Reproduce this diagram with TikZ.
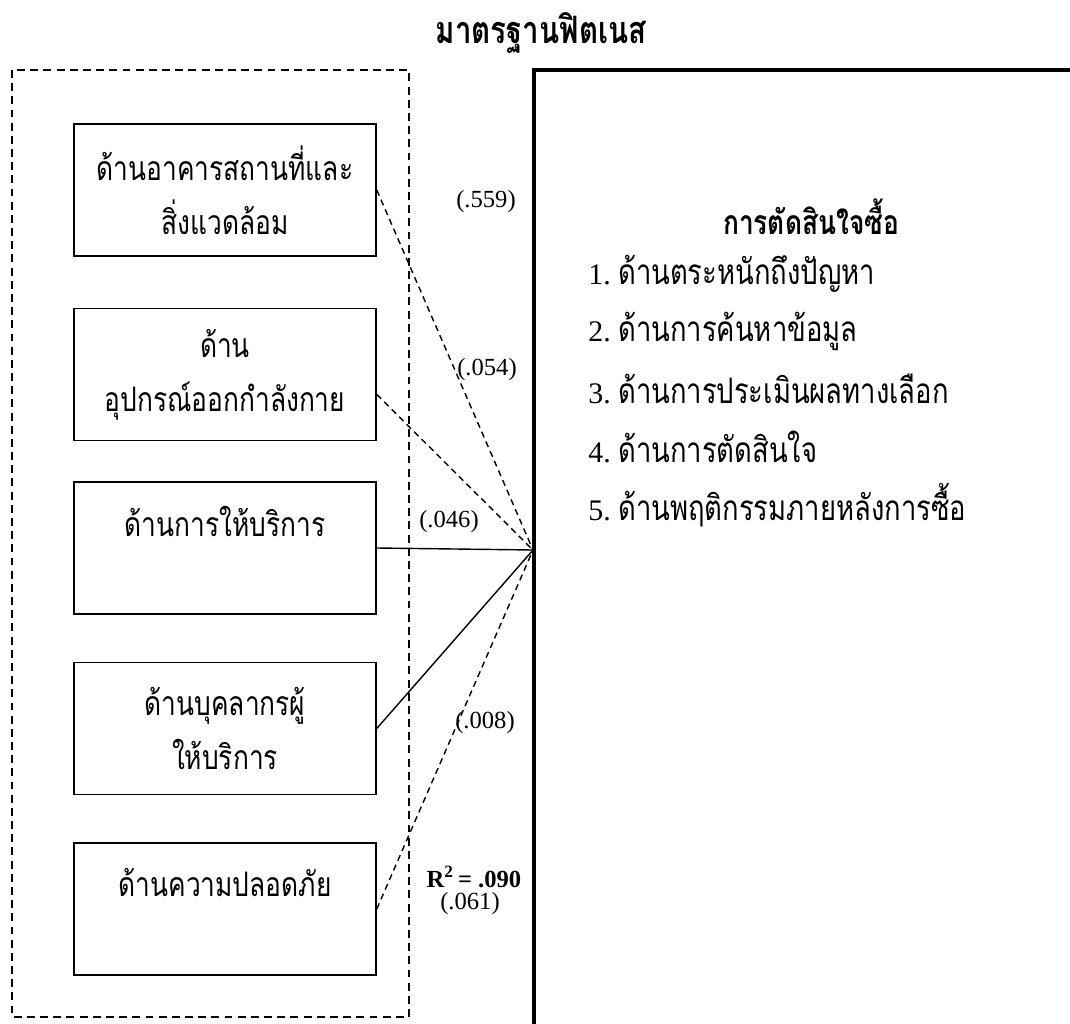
\documentclass[tikz,border=0pt]{standalone}
\usepackage{fontspec}
\setmainfont{Liberation Serif}
\newfontfamily\thai[Script=Thai, FakeStretch=0.78]{Loma}
\tikzset{
  factor/.style = {draw, line width = 0.9pt, minimum width = 6.04cm, minimum height = 2.64cm,
                   inner sep = 0pt, align = center, font = \thai\fontsize{19.2}{30.6}\selectfont},
  coef/.style = {font = \fontsize{14}{16}\selectfont},
  item/.style = {anchor = west, inner sep = 0pt, font = \fontsize{17}{20}\selectfont}
}
\begin{document}
\begin{tikzpicture}[x = 0.02cm, y = -0.02cm]
            \useasboundingbox (0,0) rectangle (1070,1023);
            \node[font = \thai\bfseries\fontsize{21.5}{24}\selectfont] (title) at (541,33) {มาตรฐานฟิตเนส};
            \draw[line width = 0.8pt, dash pattern = on 4.5pt off 3pt] (12,70) rectangle (409,1017);
            \draw[line width = 2.3pt] (1080,70) -- (534,70) -- (534,1035);
            \coordinate (hub) at (533,550);
            \node[factor] (f1) at (225,190) {ด้านอาคารสถานที่และ\\สิ่งแวดล้อม};
            \node[factor] (f2) at (225,374.5) {ด้าน\\อุปกรณ์ออกกำลังกาย};
            \node[factor] (f3) at (225,548) {ด้านการให้บริการ\\~};
            \node[factor] (f4) at (225,728.5) {ด้านบุคลากรผู้\\ให้บริการ};
            \node[factor] (f5) at (225,909) {ด้านความปลอดภัย\\~};
            \begin{scope}[line width = 0.8pt]
                \draw (f3.east) -- (hub);
                \draw (f4.east) -- (hub);
            \end{scope}
            \begin{scope}[line width = 0.8pt, dash pattern = on 3.5pt off 2.5pt]
                \draw (f1.east) -- (hub);
                \draw ([yshift = -0.4cm]f2.east) -- (hub);
                \draw (f5.east) -- (hub);
            \end{scope}
            \begin{scope}[every node/.append style = {coef}]
                \node (c1) at (486,202) {(.559)};
                \node (c2) at (487,370) {(.054)};
                \node (c3) at (449,522) {(.046)};
                \node (c4) at (485,723) {(.008)};
                \node (rsq) at (474,877) {\textbf{R\textsuperscript{2}\,= .090}};
                \node (c5) at (470,904) {(.061)};
            \end{scope}
            \node[font = \thai\bfseries\fontsize{19.2}{22}\selectfont] (dv) at (811,217) {การตัดสินใจซื้อ};
            \begin{scope}[every node/.append style = {item}]
                \node (d1) at (588,274) {1.\ {\thai\fontsize{20}{22}\selectfont ด้านตระหนักถึงปัญหา}};
                \node (d2) at (588,331) {2.\ {\thai\fontsize{20}{22}\selectfont ด้านการค้นหาข้อมูล}};
                \node (d3) at (588,389) {3.\ {\thai\fontsize{20}{22}\selectfont ด้านการประเมินผลทางเลือก}};
                \node (d4) at (588,447) {4.\ {\thai\fontsize{20}{22}\selectfont ด้านการตัดสินใจ}};
                \node (d5) at (588,505) {5.\ {\thai\fontsize{20}{22}\selectfont ด้านพฤติกรรมภายหลังการซื้อ}};
            \end{scope}
        \end{tikzpicture}
\end{document}
